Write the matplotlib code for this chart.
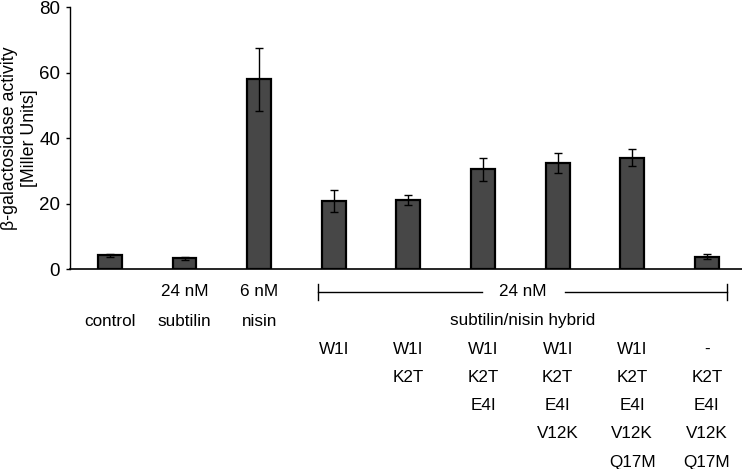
import numpy as np
import matplotlib
matplotlib.use("Agg")
import matplotlib.pyplot as plt
from matplotlib.transforms import blended_transform_factory

plt.rcParams['font.family'] = ['Liberation Sans', 'DejaVu Sans']
plt.rcParams['font.size'] = 12.3

# valores
activity = [4.2, 3.3, 57.9, 20.8, 21.1, 30.4, 32.4, 34.0, 3.8]
errors = [0.4, 0.4, 9.7, 3.3, 1.4, 3.4, 3.1, 2.6, 0.7]

conc_labels = ["", "24 nM", "6 nM"]
name_labels = ["control", "subtilin", "nisin"]
hybrid_conc = "24 nM"
hybrid_name = "subtilin/nisin hybrid"
mutations = [
    ["W1I"],
    ["W1I", "K2T"],
    ["W1I", "K2T", "E4I"],
    ["W1I", "K2T", "E4I", "V12K"],
    ["W1I", "K2T", "E4I", "V12K", "Q17M"],
    ["-", "K2T", "E4I", "V12K", "Q17M"],
]

x = np.arange(len(activity))

fig = plt.figure(figsize=(7.42, 4.69), dpi=100)
ax = fig.add_axes([0.0943, 0.4264, 0.9057, 0.5586])

ax.bar(x, activity, width=0.32, color='#474747', edgecolor='black', linewidth=1.6,
       yerr=errors, error_kw=dict(ecolor='black', elinewidth=1.0, capsize=3, capthick=1.0))

ax.set_xlim(-0.535, 8.47)
ax.set_ylim(0, 80)
ax.set_yticks([0, 20, 40, 60, 80])
ax.set_xticks([])
ax.tick_params(axis='y', direction='out', length=3, width=1, pad=4, labelsize=13.5)
for s in ['top', 'right']:
    ax.spines[s].set_visible(False)
ax.spines['left'].set_linewidth(1)
ax.spines['bottom'].set_linewidth(1.2)

fig.text(0.026, 0.705, "β-galactosidase activity\n[Miller Units]", rotation=90,
         ha='center', va='center', linespacing=1.25, fontsize=12.8)

# rótulos abaixo das barras
tr = blended_transform_factory(ax.transData, fig.transFigure)
H = 469.0
rows = [(H - py) / H for py in [292, 321, 349, 377, 405, 433, 462]]

for i in range(3):
    ax.text(x[i], rows[0], conc_labels[i], transform=tr, ha='center', va='center')
    ax.text(x[i], rows[1], name_labels[i], transform=tr, ha='center', va='center')

hx = x[3:]
left, right = hx[0] - 0.21, hx[-1] + 0.27
mid = (left + right) / 2
ax.text(mid, rows[0], hybrid_conc, transform=tr, ha='center', va='center')
ax.text(mid, rows[1], hybrid_name, transform=tr, ha='center', va='center')

# colchete do 24 nM
ax.plot([left, mid - 0.55], [rows[0], rows[0]], transform=tr, color='black', lw=1, clip_on=False)
ax.plot([mid + 0.57, right], [rows[0], rows[0]], transform=tr, color='black', lw=1, clip_on=False)
tick = 8 / H
for xe in [left, right]:
    ax.plot([xe, xe], [rows[0] - tick, rows[0] + tick], transform=tr, color='black', lw=1, clip_on=False)

for j, muts in enumerate(mutations):
    for k, m in enumerate(muts):
        ax.text(hx[j], rows[2 + k], m, transform=tr, ha='center', va='center')

fig.savefig("out.png", dpi=100)
